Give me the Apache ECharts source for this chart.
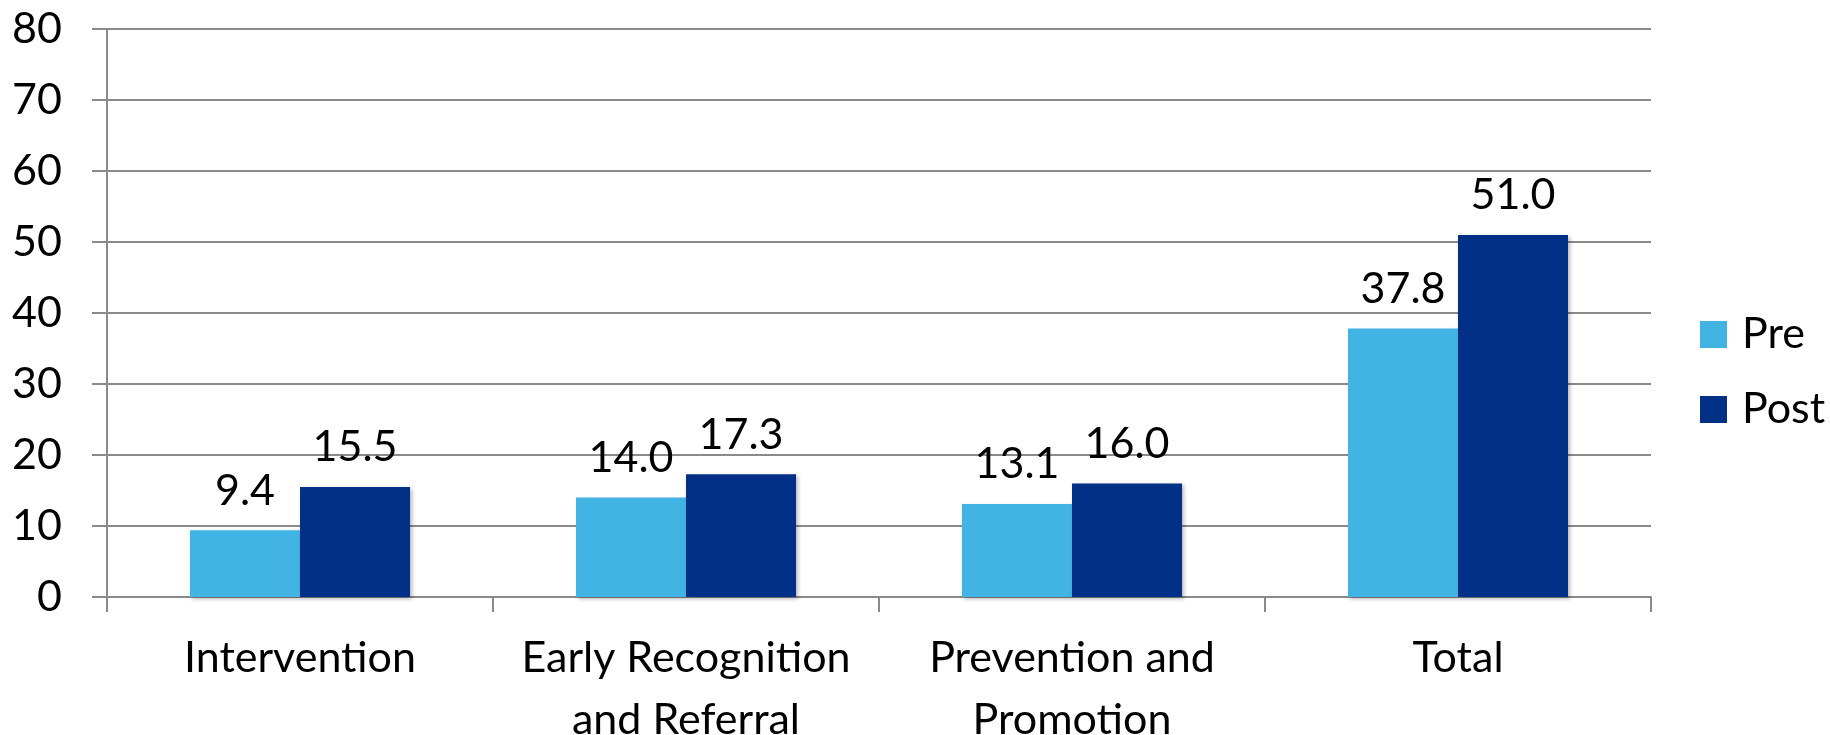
<!DOCTYPE html>
<html>
<head>
<meta charset="utf-8">
<script src="https://cdn.jsdelivr.net/npm/echarts@6/dist/echarts.min.js"></script>
<style>
  html, body { margin: 0; padding: 0; background: #fff; }
  #chart { width: 1830px; height: 735px; }
</style>
</head>
<body>
<div id="chart"></div>
<script>
// Mean scores per competency area, before and after training
const categories = ['Intervention', 'Early Recognition\nand Referral', 'Prevention and\nPromotion', 'Total'];
const preScores = [9.4, 14.0, 13.1, 37.8];
const postScores = [15.5, 17.3, 16.0, 51.0];
const seriesNames = ['Pre', 'Post'];
const yTicks = { min: 0, max: 80, step: 10 };

const FONT = 'Lato';
const FONT_SIZE = 43;
const GRID_GRAY = '#8a8a8a';

const chart = echarts.init(document.getElementById('chart'), null, { renderer: 'canvas' });

function barSeries(name, values, color) {
  return {
    name: name,
    type: 'bar',
    data: values,
    barGap: '0%',
    barCategoryGap: '43%',
    itemStyle: {
      color: color,
      shadowColor: 'rgba(0,0,0,0.28)',
      shadowBlur: 4,
      shadowOffsetX: 2,
      shadowOffsetY: 2
    },
    label: {
      show: true,
      position: 'top',
      distance: 18,
      fontFamily: FONT,
      fontSize: FONT_SIZE,
      color: '#000',
      formatter: p => p.value.toFixed(1)
    }
  };
}

chart.setOption({
  animation: false,
  backgroundColor: '#fff',
  grid: {
    left: 107, right: 179, top: 29, bottom: 138,
    containLabel: false,
    outerBoundsMode: 'none'
  },
  legend: {
    orient: 'vertical',
    left: 1700,
    top: 313,
    padding: 0,
    itemWidth: 27,
    itemHeight: 27,
    itemGap: 32,
    icon: 'rect',
    data: seriesNames,
    textStyle: {
      fontFamily: FONT,
      fontSize: FONT_SIZE,
      color: '#000',
      padding: [0, 0, 0, 10]
    }
  },
  xAxis: {
    type: 'category',
    data: categories,
    axisLine: { show: true, lineStyle: { color: GRID_GRAY, width: 2 } },
    axisTick: { show: true, length: 15, alignWithLabel: false, lineStyle: { color: GRID_GRAY, width: 2 } },
    axisLabel: {
      fontFamily: FONT,
      fontSize: FONT_SIZE,
      color: '#000',
      lineHeight: 62,
      margin: 30,
      interval: 0
    }
  },
  yAxis: {
    type: 'value',
    min: yTicks.min,
    max: yTicks.max,
    interval: yTicks.step,
    axisLine: { show: true, lineStyle: { color: GRID_GRAY, width: 2 } },
    axisTick: { show: true, length: 15, lineStyle: { color: GRID_GRAY, width: 2 } },
    splitLine: { show: true, lineStyle: { color: GRID_GRAY, width: 2 } },
    axisLabel: {
      fontFamily: FONT,
      fontSize: FONT_SIZE,
      color: '#000',
      margin: 45
    }
  },
  series: [
    barSeries(seriesNames[0], preScores, '#42B4E4'),
    barSeries(seriesNames[1], postScores, '#033087')
  ]
});
</script>
</body>
</html>
